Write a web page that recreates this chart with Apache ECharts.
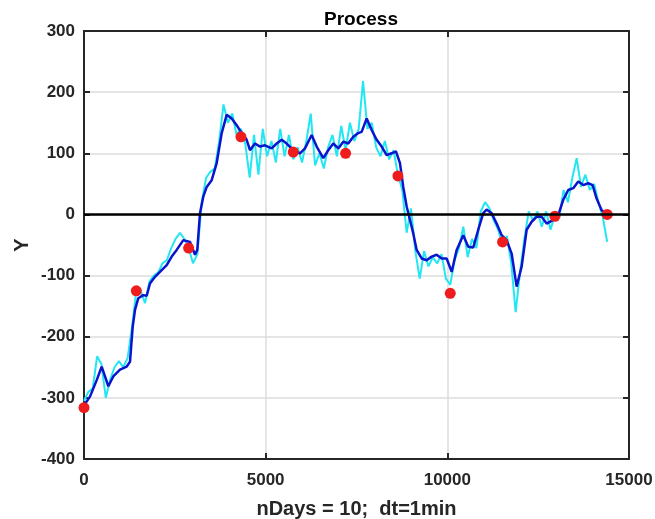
<!DOCTYPE html>
<html>
<head>
<meta charset="utf-8">
<script src="https://cdn.jsdelivr.net/npm/echarts@6/dist/echarts.min.js"></script>
<style>
  html, body { margin: 0; padding: 0; background: #fff; }
  #chart { width: 655px; height: 519px; }
</style>
</head>
<body>
<div id="chart"></div>
<script>
// raw process, sampled every 120 min
const rawStep = 120;
const rawY = [
  -305, -290, -285, -232, -245, -300, -270, -250, -240, -250,
  -235, -185, -125, -125, -145, -110, -100, -95, -80, -75,
  -55, -40, -30, -40, -55, -80, -65, 20, 60, 70,
  75, 120, 180, 150, 165, 130, 140, 115, 60, 130,
  65, 140, 95, 120, 85, 140, 95, 130, 90, 110,
  85, 120, 165, 80, 100, 75, 110, 130, 95, 145,
  105, 150, 120, 140, 218, 140, 150, 110, 95, 120,
  90, 105, 65, 40, -30, 10, -60, -105, -60, -85,
  -70, -80, -65, -105, -115, -75, -55, -20, -70, -40,
  -55, 5, 20, 10, -10, -25, -50, -35, -80, -160,
  -95, -40, 5, -10, 5, -20, 5, -25, 0, -5,
  40, 20, 60, 92, 45, 65, 40, 50, 20, -5,
  -45
];

// smoothed curve
const smoothX = [
  0, 165, 350, 487, 578, 669, 806, 991, 1175, 1266,
  1340, 1404, 1494, 1632, 1726, 1816, 1954, 2138, 2276, 2414,
  2551, 2733, 2917, 3055, 3118, 3192, 3283, 3377, 3514, 3652,
  3790, 3927, 4065, 4202, 4340, 4477, 4568, 4706, 4844, 4981,
  5166, 5303, 5441, 5578, 5760, 5944, 6082, 6266, 6404, 6586,
  6723, 6861, 6998, 7136, 7273, 7411, 7549, 7642, 7780, 7917,
  8055, 8192, 8330, 8467, 8586, 8696, 8787, 8881, 8972, 9062,
  9156, 9293, 9431, 9569, 9706, 9844, 9981, 10119, 10257, 10438,
  10576, 10714, 10851, 10989, 11082, 11220, 11357, 11495, 11633, 11770,
  11908, 12046, 12183, 12321, 12458, 12596, 12734, 12915, 13053, 13191,
  13328, 13466, 13603, 13741, 13878, 13999, 14109, 14247, 14385
];
const smoothY = [
  -312, -298, -271, -249, -265, -281, -265, -254, -249, -241,
  -184, -156, -137, -132, -133, -113, -102, -91, -83, -69,
  -58, -42, -45, -66, -58, 2, 29, 45, 56, 84,
  133, 163, 157, 146, 133, 122, 105, 116, 111, 113,
  108, 116, 122, 116, 105, 100, 108, 130, 111, 92,
  105, 116, 108, 119, 116, 127, 133, 135, 157, 138,
  122, 111, 97, 100, 103, 84, 45, 13, -9, -31,
  -58, -72, -75, -69, -66, -72, -72, -94, -58, -34,
  -53, -54, -25, 2, 8, 2, -15, -34, -42, -64,
  -118, -85, -25, -12, -4, -4, -15, -9, -1, 24,
  40, 43, 54, 48, 51, 48, 26, 7, 1
];

// daily samples
const dayX = [0, 1440, 2880, 4320, 5760, 7200, 8640, 10080, 11520, 12960, 14400];
const dayY = [-316, -125, -55, 127, 102, 100, 63, -129, -45, -3, 0];

const xTicks = [0, 5000, 10000, 15000];
const yTicks = [-400, -300, -200, -100, 0, 100, 200, 300];

const rawData = rawY.map((v, i) => [i * rawStep, v]);
const smoothData = smoothX.map((x, i) => [x, smoothY[i]]);
const dayData = dayX.map((x, i) => [x, dayY[i]]);

const chart = echarts.init(document.getElementById('chart'));
const font = '"Liberation Sans", Arial, sans-serif';
const boxLine = { show: true, onZero: false, lineStyle: { color: '#262626', width: 2 } };
const tick = { show: true, inside: true, length: 6, lineStyle: { color: '#262626', width: 2 } };

chart.setOption({
  animation: false,
  title: {
    text: 'Process',
    left: 356, top: 5, textAlign: 'center',
    textStyle: { fontFamily: font, fontSize: 19, fontWeight: 'bold', color: '#000' }
  },
  grid: { left: 84, right: 26, top: 31, bottom: 60, outerBoundsMode: 'none', containLabel: false },
  xAxis: [{
    type: 'value', min: xTicks[0], max: xTicks[xTicks.length - 1], interval: 5000,
    axisLine: boxLine, axisTick: tick,
    axisLabel: { margin: 13, fontFamily: font, fontSize: 17, fontWeight: 'bold', color: '#262626',
      formatter: v => String(v) },
    splitLine: { show: true, lineStyle: { color: '#dcdcdc', width: 1.5 } },
    name: 'nDays = 10;  dt=1min', nameLocation: 'middle', nameGap: 40,
    nameTextStyle: { fontFamily: font, fontSize: 20, fontWeight: 'bold', color: '#262626' }
  }, {
    type: 'value', position: 'top', min: 0, max: 15000, interval: 5000,
    axisLine: boxLine, axisTick: tick, axisLabel: { show: false }, splitLine: { show: false }
  }],
  yAxis: [{
    type: 'value', min: yTicks[0], max: yTicks[yTicks.length - 1], interval: 100,
    axisLine: boxLine, axisTick: tick,
    axisLabel: { margin: 9, fontFamily: font, fontSize: 17, fontWeight: 'bold', color: '#262626' },
    splitLine: { show: true, lineStyle: { color: '#dcdcdc', width: 1.5 } },
    name: 'Y', nameLocation: 'middle', nameGap: 52, nameRotate: 90, nameMoveOverlap: false,
    nameTextStyle: { fontFamily: font, fontSize: 20, fontWeight: 'bold', color: '#262626' }
  }, {
    type: 'value', position: 'right', min: -400, max: 300, interval: 100,
    axisLine: boxLine, axisTick: tick, axisLabel: { show: false }, splitLine: { show: false }
  }],
  series: [{
    type: 'line', data: rawData, showSymbol: false, z: 2,
    lineStyle: { color: '#22e6f2', width: 2 },
    markLine: {
      silent: true, symbol: 'none', label: { show: false },
      lineStyle: { color: '#000', width: 2.5, type: 'solid' },
      data: [{ yAxis: 0 }]
    }
  }, {
    type: 'line', data: smoothData, showSymbol: false, z: 3,
    lineStyle: { color: '#0a14cc', width: 2.5 }
  }, {
    type: 'scatter', data: dayData, symbolSize: 11, z: 4,
    itemStyle: { color: '#ee1c1c', opacity: 1 }
  }]
});
</script>
</body>
</html>
